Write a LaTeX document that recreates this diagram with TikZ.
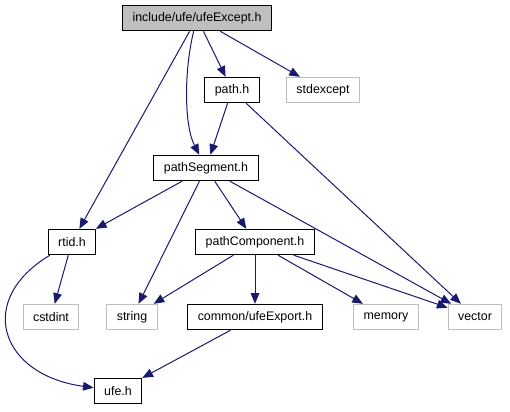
\documentclass[tikz,border=0pt]{standalone}
\usepackage{fontspec}
\setmainfont{Liberation Sans}
\usetikzlibrary{arrows.meta}

\definecolor{edgeblue}{HTML}{191970}
\definecolor{extgray}{HTML}{BFBFBF}

\begin{document}
\begin{tikzpicture}[
  x=0.75pt, y=-0.75pt,
  file/.style={rectangle, draw=black, line width=0.8pt, fill=white,
               minimum height=19pt, inner xsep=7.5pt, inner ysep=0pt,
               font=\fontsize{9.3}{11}\selectfont},
  rootfile/.style={file, fill=extgray},
  sysfile/.style={file, draw=extgray},
  edge/.style={draw=edgeblue, line width=0.75pt,
               -{Triangle[length=8pt, width=6.5pt]}},
]
  \useasboundingbox (0,0) rectangle (510,411);

  % ===== Files =====
  \node[rootfile] (ufeexcept) at (197, 18) {include/ufe/ufeExcept.h};
  \node[file]     (path)      at (232, 90) {path.h};
  \node[sysfile]  (stdexcept) at (323, 90) {stdexcept};
  \node[file]     (pathseg)   at (206,168) {pathSegment.h};
  \node[file]     (rtid)      at (72, 242) {rtid.h};
  \node[file]     (pathcomp)  at (255,242) {pathComponent.h};
  \node[sysfile]  (cstdint)   at (51, 317) {cstdint};
  \node[sysfile]  (string)    at (132,317) {string};
  \node[file]     (ufeexport) at (255,317) {common/ufeExport.h};
  \node[sysfile]  (memory)    at (386,317) {memory};
  \node[sysfile]  (vector)    at (475,317) {vector};
  \node[file]     (ufe)       at (118,391) {ufe.h};

  % ===== Includes =====
  \draw[edge] (ufeexcept) -- (rtid);
  \draw[edge] (ufeexcept) .. controls (184,70) and (184,125) .. (pathseg);
  \draw[edge] (ufeexcept) -- (path);
  \draw[edge] (ufeexcept) -- (stdexcept);

  \draw[edge] (path) -- (pathseg);
  \draw[edge] (path) -- (vector);

  \draw[edge] (pathseg) -- (rtid);
  \draw[edge] (pathseg) -- (string);
  \draw[edge] (pathseg) -- (pathcomp);
  \draw[edge] (pathseg) -- (vector);

  \draw[edge] (rtid) -- (cstdint);
  \draw[edge] (rtid) .. controls (-25,300) and (0,375) .. (ufe);

  \draw[edge] (pathcomp) -- (string);
  \draw[edge] (pathcomp) -- (ufeexport);
  \draw[edge] (pathcomp) -- (memory);
  \draw[edge] (pathcomp) -- (vector);

  \draw[edge] (ufeexport) -- (ufe);
\end{tikzpicture}
\end{document}
